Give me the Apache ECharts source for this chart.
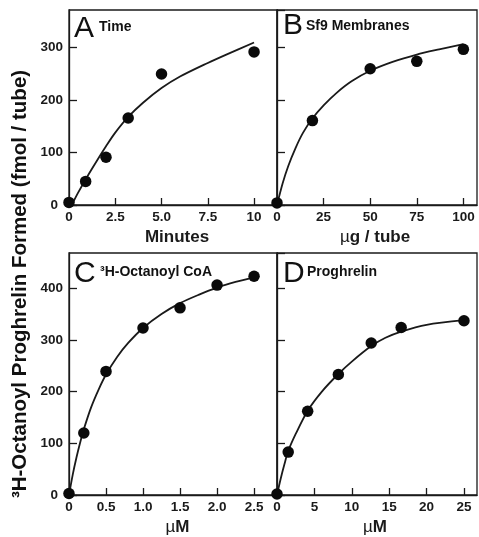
<!DOCTYPE html>
<html>
<head>
<meta charset="utf-8">
<script src="https://cdn.jsdelivr.net/npm/echarts@6/dist/echarts.min.js"></script>
<style>
html,body{margin:0;padding:0;background:#fff;}
#c{width:479px;height:537px;}
</style>
</head>
<body>
<div id="c"></div>
<script>
// Panel A: Time
const timeMin = [0, 0.9, 2, 3.2, 5, 10];
const timeVal = [5, 45, 91, 166, 250, 292];
const fitTimeX = [0.15, 0.5, 1, 1.5, 2, 2.5, 3.2, 4, 5, 6, 7.5, 8.5, 10];
const fitTimeY = [0, 24, 55, 84, 112, 138, 168, 195, 223, 245, 271, 287, 310];
// Panel B: Sf9 membranes
const membUg = [0, 19, 50, 75, 100];
const membVal = [4, 161, 260, 274, 297];
const fitMembX = [0, 3, 6, 10, 14, 19, 25, 32, 40, 50, 62, 75, 87, 100];
const fitMembY = [0, 41, 74, 109, 138, 165, 190, 214, 236, 256, 273, 287, 297, 307];
// Panel C: 3H-Octanoyl CoA
const coaUM = [0, 0.2, 0.5, 1.0, 1.5, 2.0, 2.5];
const coaVal = [3, 120, 239, 323, 362, 406, 423];
const fitCoaX = [0, 0.05, 0.1, 0.15, 0.2, 0.3, 0.4, 0.5, 0.65, 0.8, 1.0, 1.25, 1.5, 1.75, 2.0, 2.25, 2.5];
const fitCoaY = [0, 39, 72, 101, 127, 170, 204, 233, 267, 294, 323, 350, 371, 387, 401, 412, 421];
// Panel D: Proghrelin
const progUM = [0, 1.5, 4.1, 8.2, 12.6, 16.6, 25];
const progVal = [2, 83, 162, 233, 294, 324, 337];
const fitProgX = [0, 0.5, 1, 1.5, 2.5, 4.1, 6, 8.2, 10, 12.6, 14.5, 16.6, 20, 25];
const fitProgY = [0, 32, 60, 85, 118, 163, 200, 234, 258, 288, 304, 316, 329, 338];

const panelLetters = ['A', 'B', 'C', 'D'];
const panelNames = ['Time', 'Sf9 Membranes', '\u00B3H-Octanoyl CoA', 'Proghrelin'];
const xNames = ['Minutes', '{mu|\u00B5}g / tube', '{mu|\u00B5}M', '{mu|\u00B5}M'];
const yTitle = '\u00B3H-Octanoyl Proghrelin Formed (fmol / tube)';

const FF = '"Liberation Sans", Arial, Helvetica, sans-serif';
const INK = '#1a1a1a';

function zip(xs, ys) { return xs.map((x, i) => [x, ys[i]]); }

const grids = [
  {left: 69, top: 10, width: 208, height: 195},
  {left: 277, top: 10, width: 200, height: 195},
  {left: 69, top: 253, width: 208, height: 244},
  {left: 277, top: 253, width: 200, height: 244}
].map(g => Object.assign({show: true, borderColor: INK, borderWidth: 1.3, containLabel: false}, g));

const xCfg = [
  {max: 11.24, interval: 2.5, fmt: v => v === 0 ? '0' : (v === 10 ? '10' : v.toFixed(1)), pad: [0, 0, 0, 8]},
  {max: 107.3, interval: 25, fmt: v => String(v), pad: [0, 4, 0, 0]},
  {max: 2.81, interval: 0.5, fmt: v => v === 0 ? '0' : v.toFixed(1), pad: [0, 0, 0, 9]},
  {max: 26.74, interval: 5, fmt: v => String(v), pad: [0, 4, 0, 0]}
];
const yMax = [372, 372, 468, 468];

const xAxis = xCfg.map((c, i) => ({
  type: 'value', gridIndex: i, min: 0, max: c.max, interval: c.interval,
  name: xNames[i], nameLocation: 'middle', nameGap: 24,
  nameTextStyle: {fontFamily: FF, fontWeight: 'bold', fontSize: 17, color: INK, padding: c.pad,
    rich: {mu: {fontFamily: FF, fontWeight: 'normal', fontSize: 17, color: INK}}},
  axisLine: {show: true, lineStyle: {color: INK, width: 1.3}},
  axisTick: {show: true, inside: true, length: 7, lineStyle: {color: INK, width: 1.3}},
  splitLine: {show: false},
  axisLabel: {fontFamily: FF, fontWeight: 'bold', fontSize: 13.5, color: INK, margin: 5,
    showMaxLabel: false,
    formatter: v => (Math.abs(v / c.interval - Math.round(v / c.interval)) < 1e-6) ? c.fmt(v) : ''}
}));

const yAxis = yMax.map((m, i) => ({
  type: 'value', gridIndex: i, min: 0, max: m, interval: 100,
  axisLine: {show: true, lineStyle: {color: INK, width: 1.3}},
  axisTick: {show: true, inside: true, length: 8, lineStyle: {color: INK, width: 1.3}},
  splitLine: {show: false},
  axisLabel: {show: i % 2 === 0, fontFamily: FF, fontWeight: 'bold', fontSize: 13.5, color: INK, margin: 6,
    showMaxLabel: false,
    formatter: v => v === 0 ? '{z|0}' : (v % 100 === 0 ? String(v) : ''),
    rich: {z: {fontFamily: FF, fontWeight: 'bold', fontSize: 13.5, color: INK, padding: [0, 5, 0, 0]}}}
}));

const pts = [zip(timeMin, timeVal), zip(membUg, membVal), zip(coaUM, coaVal), zip(progUM, progVal)];
const fits = [zip(fitTimeX, fitTimeY), zip(fitMembX, fitMembY), zip(fitCoaX, fitCoaY), zip(fitProgX, fitProgY)];

const series = [];
for (let i = 0; i < 4; i++) {
  series.push({type: 'line', xAxisIndex: i, yAxisIndex: i, data: fits[i], showSymbol: false,
    smooth: 0.3, lineStyle: {color: INK, width: 1.8}, silent: true, z: 3});
  series.push({type: 'scatter', xAxisIndex: i, yAxisIndex: i, data: pts[i], symbol: 'circle',
    symbolSize: 11.5, itemStyle: {color: '#0a0a0a', opacity: 1}, clip: false, z: 5});
}

const letterPos = [[74, 29], [283, 26], [74, 273.5], [283, 274]];
const namePos = [[99, 27], [306, 26], [100, 272], [307, 272]];
const graphic = [];
for (let i = 0; i < 4; i++) {
  graphic.push({type: 'text', x: letterPos[i][0], y: letterPos[i][1], z: 10,
    style: {text: panelLetters[i], fontFamily: FF, fontSize: 30, fontWeight: 'normal', fill: '#111',
      align: 'left', verticalAlign: 'middle'}});
  graphic.push({type: 'text', x: namePos[i][0], y: namePos[i][1], z: 10,
    style: {text: panelNames[i], fontFamily: FF, fontSize: 14, fontWeight: 'bold', fill: '#111',
      align: 'left', verticalAlign: 'middle'}});
}
graphic.push({type: 'text', x: 20, y: 284, rotation: Math.PI / 2, z: 10,
  style: {text: yTitle, fontFamily: FF, fontSize: 20.5, fontWeight: 'bold', fill: '#111',
    align: 'center', verticalAlign: 'middle'}});

const chart = echarts.init(document.getElementById('c'), null, {renderer: 'canvas'});
chart.setOption({
  backgroundColor: '#fff',
  animation: false,
  grid: grids,
  xAxis: xAxis,
  yAxis: yAxis,
  series: series,
  graphic: graphic
});
</script>
</body>
</html>
